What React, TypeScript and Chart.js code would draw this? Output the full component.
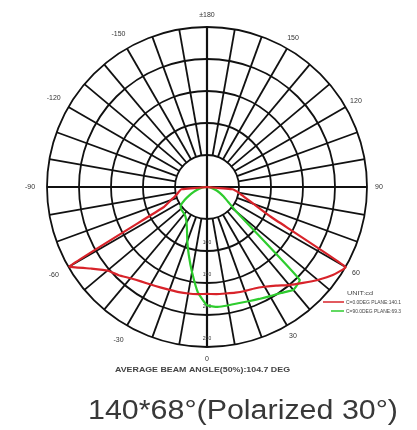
import React, { useEffect, useRef } from "react";
import { Chart, registerables } from "chart.js";

Chart.register(...registerables);

// Front half of the photometric curve: angle in degrees (negative = left side)
const FRONT_ANGLES = [
  -90, -85, -80, -75, -70, -65, -60, -55, -50, -45, -40, -35, -30, -25, -20, -15, -10, -5,
  0, 5, 10, 15, 20, 25, 30, 35, 40, 45, 50, 55, 60, 65, 70, 75, 80, 85, 90,
];

// C0/180 plane (red), cd
const RED_VALUES = [
  0, 40, 45, 50, 60, 75, 248, 222, 203, 195, 186, 180, 176, 173, 171, 170, 169, 168,
  167, 168, 169, 171, 173, 175, 180, 188, 200, 212, 226, 240, 250, 110, 78, 60, 50, 40, 0,
];

// C90/270 plane (green), cd
const GREEN_VALUES = [
  0, 5, 10, 15, 22, 30, 40, 50, 53, 54, 55, 58, 64, 74, 90, 110, 135, 165,
  185, 188, 188, 188, 190, 193, 197, 202, 210, 205, 60, 40, 30, 22, 16, 10, 6, 3, 0,
];

const RING_LABELS = [100, 150, 200, 250];
const ANGLE_LABEL_VALUES = [0, -30, -60, -90, -120, -150, 180, 150, 120, 90, 60, 30];
const ANGLE_LABEL_TEXT = ["0", "-30", "-60", "-90", "-120", "-150", "±180", "150", "120", "90", "60", "30"];

const SERIES_NAMES = ["C=0.0DEG PLANE:140.1", "C=90.0DEG PLANE:69.3"];
const UNIT_TEXT = "UNIT:cd";
const CAPTION = "AVERAGE BEAM ANGLE(50%):104.7 DEG";
const TITLE = "140*68°(Polarized 30°)";

const MAX_VALUE = 250;
const STEP = 50;
const RED = "#d8232a";
const GREEN = "#2ecc2e";
const GRID = "#111111";

// Radar labels: index 0 at bottom, going clockwise (left side first)
const ANGLES: number[] = [];
for (let i = 0; i < 72; i++) {
  let a = -i * 5;
  if (a <= -180) a += 360;
  ANGLES.push(a);
}

function valueAt(angle: number, values: number[]) {
  const idx = FRONT_ANGLES.indexOf(angle);
  return idx >= 0 ? values[idx] : 0;
}

function fitText(ctx: CanvasRenderingContext2D, text: string, x: number, y: number, font: string, width: number) {
  ctx.font = font;
  const w = ctx.measureText(text).width;
  ctx.save();
  ctx.translate(x, y);
  ctx.scale(width / w, 1);
  ctx.textAlign = "left";
  ctx.textBaseline = "alphabetic";
  ctx.fillText(text, 0, 0);
  ctx.restore();
}

const polarDecor = {
  id: "polarDecor",
  beforeDatasetsDraw(chart: any) {
    const scale = chart.scales.r;
    const ctx: CanvasRenderingContext2D = chart.ctx;
    ctx.save();
    ctx.strokeStyle = GRID;
    ctx.lineCap = "butt";
    for (let i = 0; i < ANGLES.length; i++) {
      const a = ANGLES[i];
      if (a % 10 !== 0) continue;
      const axis = a % 90 === 0;
      const from = scale.getPointPositionForValue(i, axis ? 0 : STEP);
      const to = scale.getPointPositionForValue(i, MAX_VALUE);
      ctx.lineWidth = axis ? 2.2 : 1.8;
      ctx.beginPath();
      ctx.moveTo(from.x, from.y);
      ctx.lineTo(to.x, to.y);
      ctx.stroke();
    }
    // ring value labels along the 0° (downward) axis
    ctx.fillStyle = "#333";
    ctx.font = '5px "Liberation Sans", Arial, sans-serif';
    ctx.textAlign = "center";
    ctx.textBaseline = "middle";
    RING_LABELS.forEach((v) => {
      const p = scale.getPointPositionForValue(0, v);
      ctx.fillText(String(v), p.x, p.y - 8);
    });
    ctx.restore();
  },
  afterDraw(chart: any) {
    const scale = chart.scales.r;
    const ctx: CanvasRenderingContext2D = chart.ctx;
    ctx.save();
    // angle labels
    ctx.fillStyle = "#333";
    ctx.font = '7px "Liberation Sans", Arial, sans-serif';
    ctx.textAlign = "center";
    ctx.textBaseline = "middle";
    ANGLE_LABEL_VALUES.forEach((a, k) => {
      const i = ANGLES.indexOf(a);
      const extra = a < 0 ? 17 : 12;
      const p = scale.getPointPosition(i, scale.drawingArea + extra);
      ctx.fillText(ANGLE_LABEL_TEXT[k], p.x, p.y);
    });
    // caption
    ctx.fillStyle = "#444";
    fitText(ctx, CAPTION, 115, 372, 'bold 7px "Liberation Sans", Arial, sans-serif', 175);
    // legend
    ctx.fillStyle = "#444";
    fitText(ctx, UNIT_TEXT, 347, 295, '6px "Liberation Sans", Arial, sans-serif', 26);
    const colors = [RED, GREEN];
    const starts = [323, 331];
    SERIES_NAMES.forEach((name, k) => {
      const y = 302 + k * 9;
      ctx.strokeStyle = colors[k];
      ctx.lineWidth = 1.5;
      ctx.beginPath();
      ctx.moveTo(starts[k], y);
      ctx.lineTo(344, y);
      ctx.stroke();
      ctx.fillStyle = "#444";
      fitText(ctx, name, 346, y + 2, '5px "Liberation Sans", Arial, sans-serif', 55);
    });
    // title
    ctx.fillStyle = "#383838";
    fitText(ctx, TITLE, 88, 419, '27px "Liberation Sans", Arial, sans-serif', 310);
    ctx.restore();
  },
};

export default function App() {
  const canvasRef = useRef<HTMLCanvasElement>(null);

  useEffect(() => {
    if (!canvasRef.current) return;
    const chart = new Chart(canvasRef.current, {
      type: "radar",
      data: {
        labels: ANGLES.map(String),
        datasets: [
          {
            label: SERIES_NAMES[0],
            data: ANGLES.map((a) => valueAt(a, RED_VALUES)),
            borderColor: RED,
            borderWidth: 2.2,
            pointRadius: 0,
            fill: false,
            tension: 0.1,
          },
          {
            label: SERIES_NAMES[1],
            data: ANGLES.map((a) => valueAt(a, GREEN_VALUES)),
            borderColor: GREEN,
            borderWidth: 2.2,
            pointRadius: 0,
            fill: false,
            tension: 0.1,
          },
        ],
      },
      options: {
        animation: false,
        responsive: true,
        maintainAspectRatio: false,
        layout: { padding: { left: 47, top: 27, right: 50, bottom: 83 } },
        plugins: {
          legend: { display: false },
          tooltip: { enabled: false },
          title: { display: false },
        },
        scales: {
          r: {
            min: 0,
            max: MAX_VALUE,
            startAngle: 180,
            ticks: { display: false, stepSize: STEP },
            pointLabels: { display: false },
            angleLines: { display: false },
            grid: { circular: true, color: GRID, lineWidth: 1.8 },
          },
        },
      },
      plugins: [polarDecor],
    });
    return () => chart.destroy();
  }, []);

  return (
    <div style={{ position: "absolute", left: 0, top: 0, width: 417, height: 430, background: "#fff" }}>
      <canvas ref={canvasRef} />
    </div>
  );
}
